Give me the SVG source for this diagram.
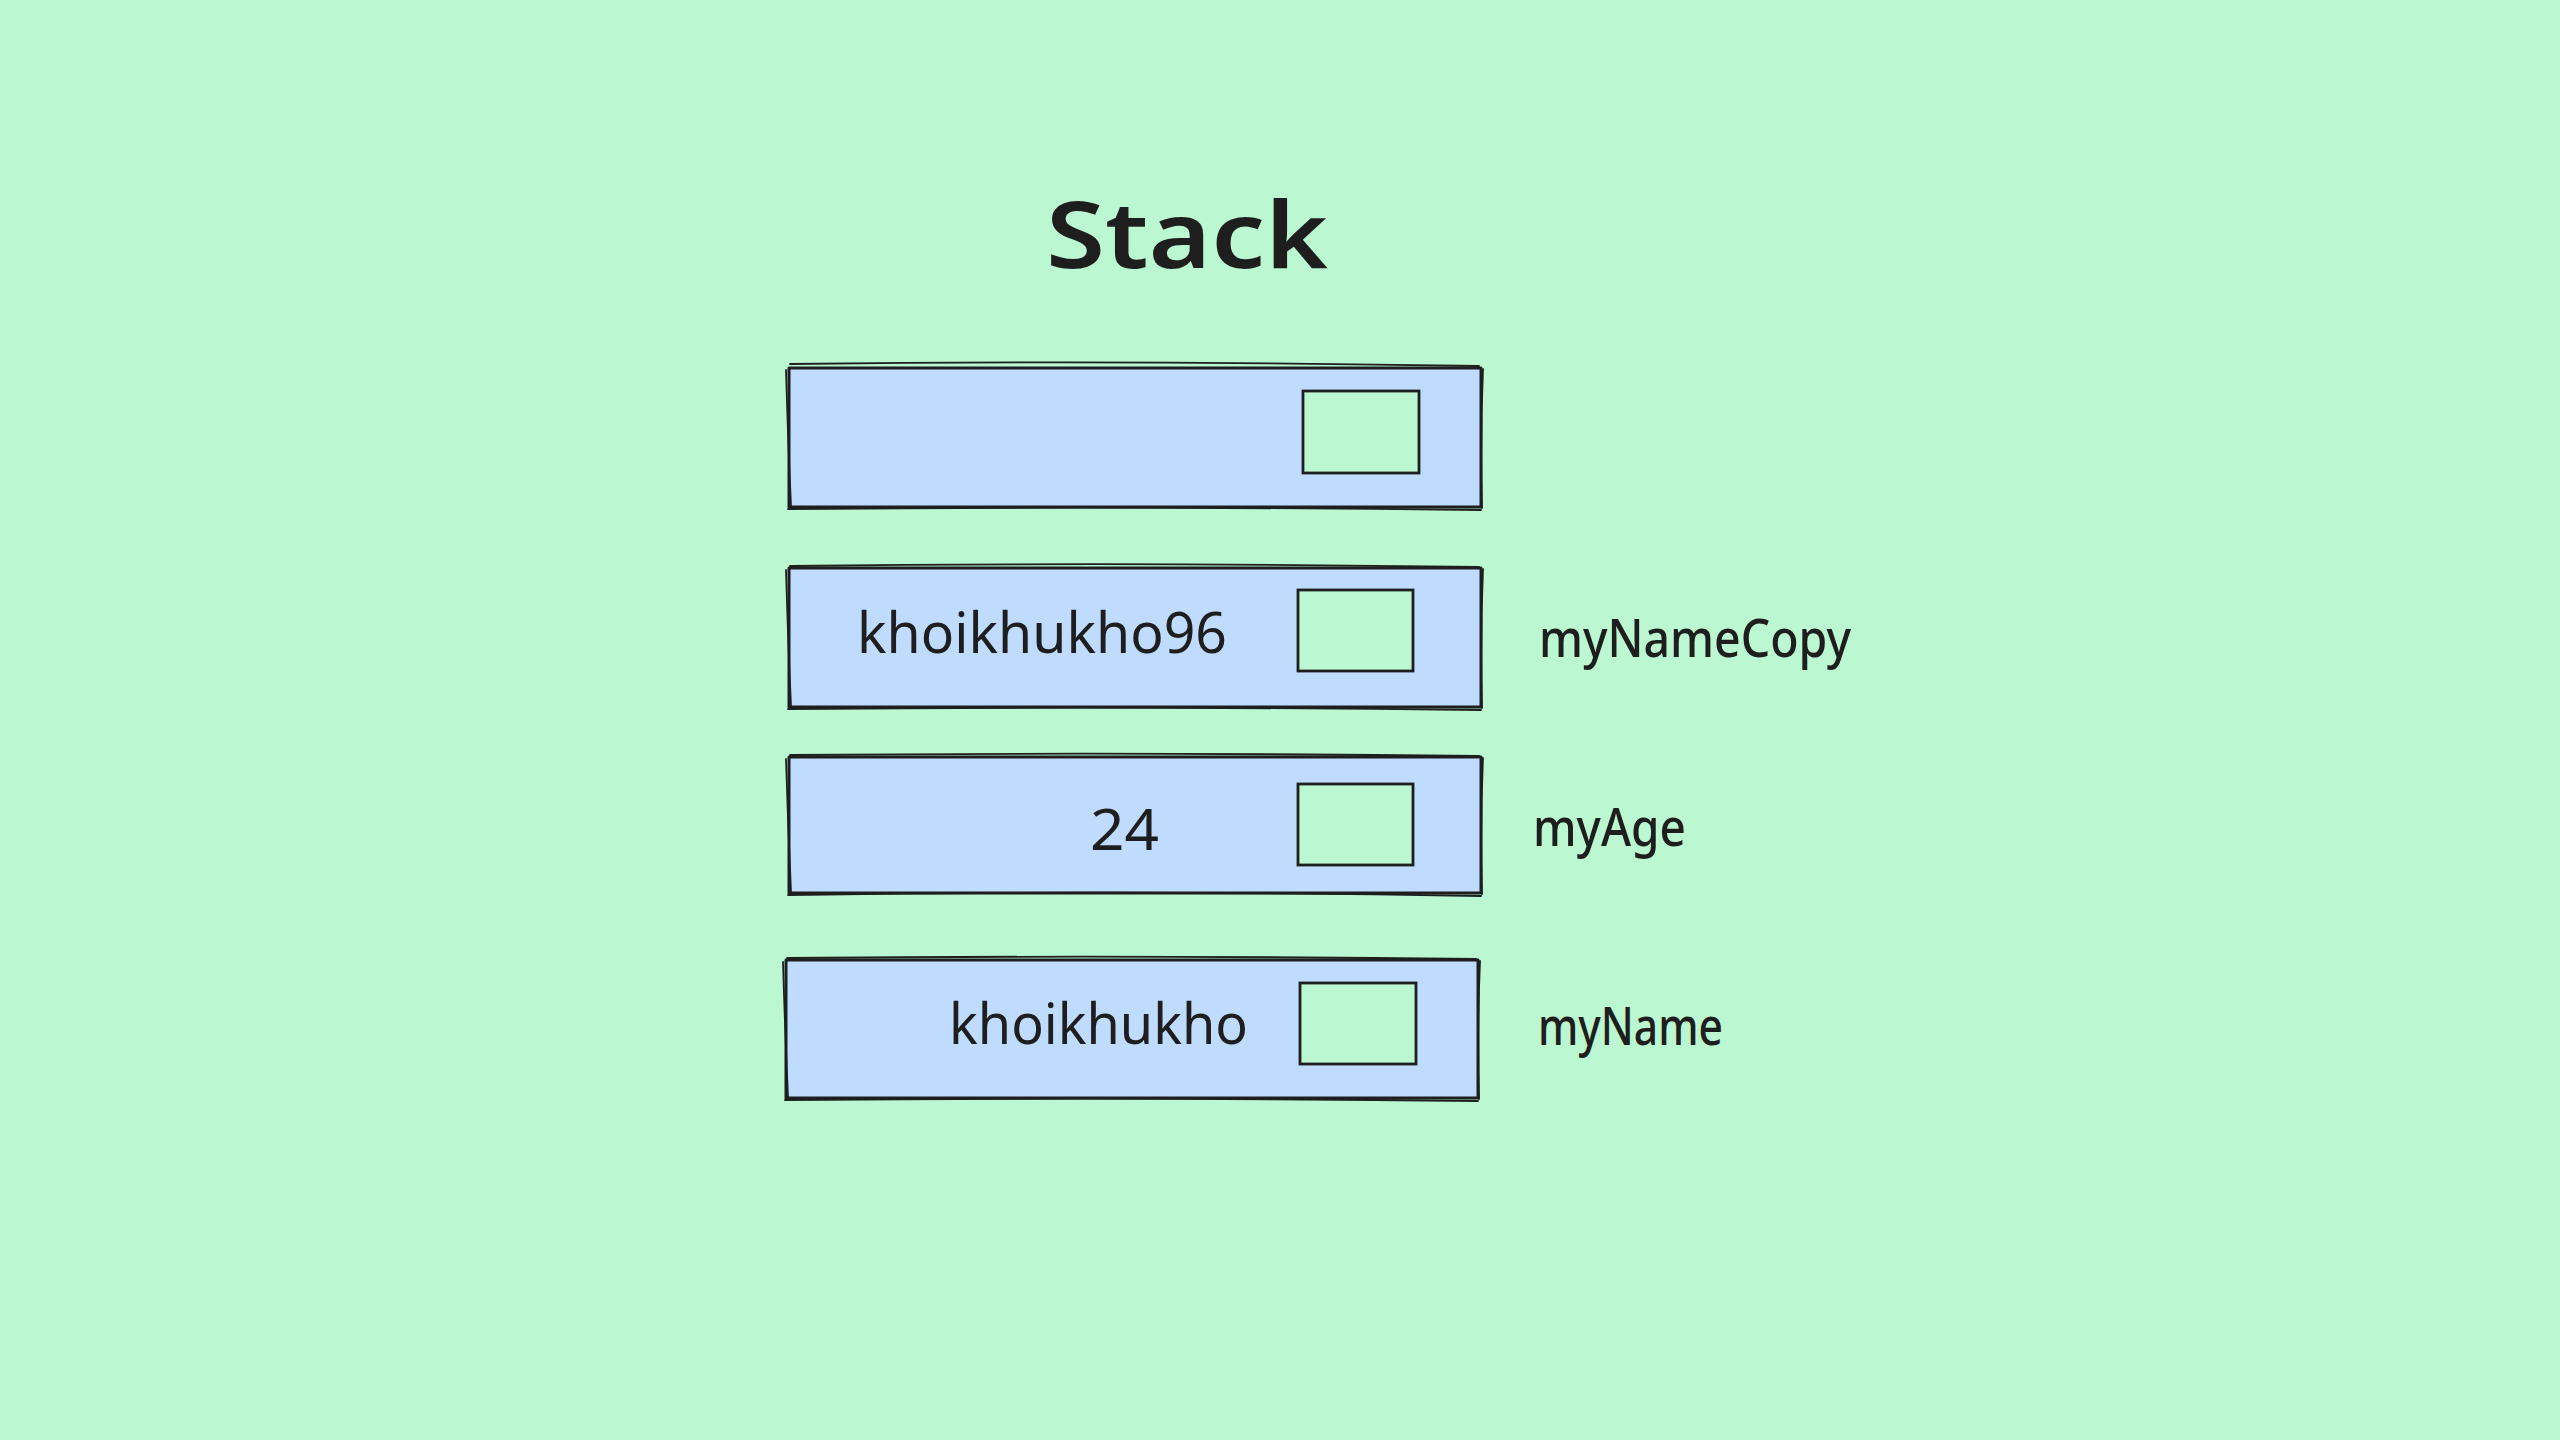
<svg xmlns="http://www.w3.org/2000/svg" width="2560" height="1440" viewBox="0 0 2560 1440">
<style>
.bg{fill:#bbf7d0}
.cell{fill:#bfdbfe;stroke:#1e1e1e;stroke-width:3;stroke-linejoin:round}
.sk{fill:none;stroke:#1e1e1e;stroke-width:1.8;stroke-linecap:round}
.slot{fill:#bbf7d0;stroke:#1e1e1e;stroke-width:2.8}
.val{font-family:"Noto Sans","DejaVu Sans",sans-serif;font-size:56px;fill:#1e1e1e}
.lbl{font-family:"Noto Sans","DejaVu Sans",sans-serif;font-size:52px;font-weight:500;fill:#1e1e1e}
.title{font-family:"Noto Sans","DejaVu Sans",sans-serif;font-size:92px;font-weight:600;fill:#1e1e1e}
</style>
<rect class="bg" x="0" y="0" width="2560" height="1440"/>
<g id="title">
<text class="title" x="1046" y="268" textLength="282" lengthAdjust="spacingAndGlyphs">Stack</text>
</g>
<g id="row1">
<rect class="cell" x="789" y="368" width="692" height="139"/>
<path class="sk" d="M790 364 Q1130 360 1479 366 M786 370 Q788 440 791 506 M1483 369 Q1480 440 1482 508 M788 509 Q1130 506 1481 510"/>
<rect class="slot" x="1303" y="391" width="116" height="82"/>
</g>
<g id="row2">
<rect class="cell" x="789" y="568" width="692" height="139"/>
<path class="sk" d="M790 566 Q1130 562 1479 567 M786 570 Q788 640 791 706 M1483 569 Q1480 640 1482 708 M788 709 Q1130 706 1481 710"/>
<rect class="slot" x="1298" y="590" width="115" height="81"/>
<text class="val" x="857" y="653" textLength="370" lengthAdjust="spacingAndGlyphs">khoikhukho96</text>
</g>
<g id="row3">
<rect class="cell" x="789" y="757" width="692" height="136"/>
<path class="sk" d="M790 755 Q1130 752 1479 756 M786 759 Q788 825 791 892 M1483 758 Q1480 825 1482 894 M788 895 Q1130 890 1481 896"/>
<rect class="slot" x="1298" y="784" width="115" height="81"/>
<text class="val" x="1090" y="850" textLength="69" lengthAdjust="spacingAndGlyphs">24</text>
</g>
<g id="row4">
<rect class="cell" x="786" y="960" width="692" height="138"/>
<path class="sk" d="M787 958 Q1130 955 1476 959 M783 962 Q785 1030 788 1097 M1480 961 Q1477 1030 1479 1099 M785 1100 Q1130 1097 1478 1101"/>
<rect class="slot" x="1300" y="983" width="116" height="81"/>
<text class="val" x="949" y="1044" textLength="299" lengthAdjust="spacingAndGlyphs">khoikhukho</text>
</g>
<g id="labels">
<text class="lbl" x="1539" y="657" textLength="312" lengthAdjust="spacingAndGlyphs">myNameCopy</text>
<text class="lbl" x="1533" y="846" textLength="153" lengthAdjust="spacingAndGlyphs">myAge</text>
<text class="lbl" x="1538" y="1045" textLength="185" lengthAdjust="spacingAndGlyphs">myName</text>
</g>
<g id="connectors"></g>
</svg>
